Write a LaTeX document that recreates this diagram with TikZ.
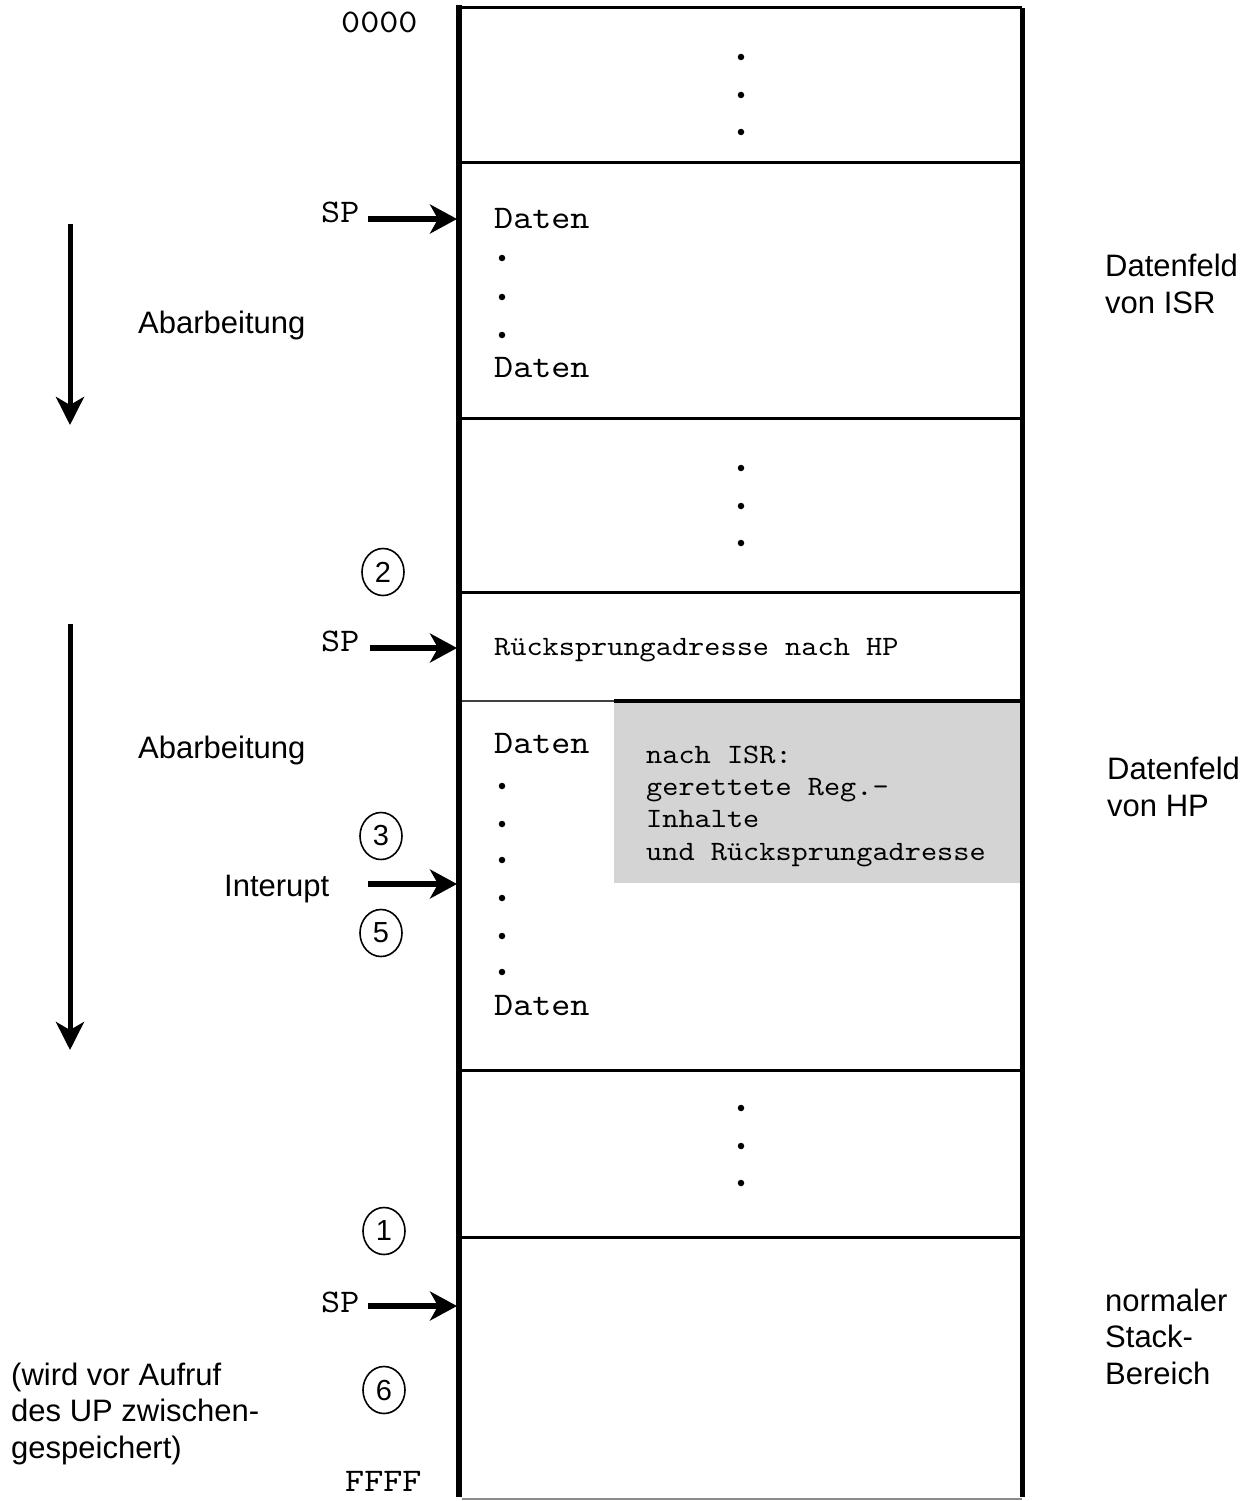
\documentclass[tikz,border=0pt]{standalone}
\usepackage{fontspec}
\setmainfont{Liberation Sans}
\newfontfamily\memfont{lmmono10-regular.otf}[FakeStretch=1.1]
\usetikzlibrary{arrows.meta,shapes.geometric}

\definecolor{savedgray}{RGB}{212,212,212}

\tikzset{
  mem/.style={font=\memfont\fontsize{33}{36}\selectfont, anchor=base west, inner sep=0pt},
  memsmall/.style={font=\memfont\fontsize{28}{32.3}\selectfont, anchor=base west, inner sep=0pt, align=left},
  note/.style={font=\fontsize{31}{36.5}\selectfont, anchor=base west, inner sep=0pt, align=left},
  stepnum/.style={draw, line width=1.6pt, ellipse, minimum width=42pt, minimum height=47pt,
                  inner sep=0pt, font=\fontsize{29}{29}\selectfont},
  ptr/.style={line width=6pt, -{Stealth[length=27pt,width=29pt,inset=8pt]}},
  flow/.style={line width=5pt, -{Stealth[length=28pt,width=28pt,inset=8pt]}},
  cellline/.style={line width=3pt},
  dotmark/.style={circle, fill, inner sep=0pt, minimum size=6.5pt}
}

\begin{document}
\begin{tikzpicture}[x=1pt,y=-1pt]
\useasboundingbox (0,0) rectangle (1255,1501);

% saved registers inside the HP data field
\fill[savedgray] (614,701) rectangle (1020,883);

% stack column: outer frame and cell borders
\draw[cellline] (459,8) -- (1022,8);
\foreach \yy in {162,418,592,1070,1237}
  \draw[cellline] (459,\yy) -- (1022,\yy);
\draw[line width=1.2pt, black!75] (459,701) -- (614,701);
\draw[line width=3.5pt] (614,701) -- (1022,701);
\draw[line width=1.2pt, black!45] (462,1499) -- (1022,1499);
\draw[line width=6pt] (459,5) -- (459,1497);
\draw[line width=5pt] (1022,8) -- (1022,1497);

% ellipsis dots in the unused cells
\foreach \yy in {57,95,132,468,506,543,1108,1146,1183}
  \node[dotmark] at (741,\yy) {};
% ellipsis dots inside the data fields
\foreach \yy in {258,297,335,786,824,860,898,936,972}
  \node[dotmark] at (502,\yy) {};

% cell contents
\node[mem] (isrA) at (494,228) {Daten};
\node[mem] (isrB) at (494,377) {Daten};
\node[memsmall] (ret) at (494,655) {Rücksprungadresse nach HP};
\node[mem] (hpA) at (494,753) {Daten};
\node[mem] (hpB) at (494,1015) {Daten};
\node[memsmall] (saved) at (646,860) {nach ISR:\\gerettete Reg.-\\Inhalte\\und Rücksprungadresse};

% addresses
\node[mem] (lo) at (341,33) {0000};
\node[mem] (hi) at (345,1491) {FFFF};

% stack pointer marks
\node[mem] (sp1) at (321,222) {SP};
\node[mem] (sp2) at (321,651) {SP};
\node[mem] (sp3) at (321,1312) {SP};
\node[note] (irq) at (224,896) {Interupt};

\coordinate (sp1tail) at (368,219);  \coordinate (sp1head) at (457,219);
\coordinate (sp2tail) at (370,648);  \coordinate (sp2head) at (457,648);
\coordinate (irqtail) at (368,884);  \coordinate (irqhead) at (457,884);
\coordinate (sp3tail) at (368,1306); \coordinate (sp3head) at (457,1306);
\draw[ptr] (sp1tail) -- (sp1head);
\draw[ptr] (sp2tail) -- (sp2head);
\draw[ptr] (irqtail) -- (irqhead);
\draw[ptr] (sp3tail) -- (sp3head);

% sequence numbers
\node[stepnum] (s2) at (383,572) {2};
\node[stepnum] (s3) at (381,836) {3};
\node[stepnum] (s5) at (381,933) {5};
\node[stepnum] (s1) at (384,1231) {1};
\node[stepnum] (s6) at (384,1390) {6};

% processing direction
\coordinate (flowAtop) at (70,224);  \coordinate (flowAend) at (70,425);
\coordinate (flowBtop) at (70,624);  \coordinate (flowBend) at (70,1050);
\draw[flow] (flowAtop) -- (flowAend);
\draw[flow] (flowBtop) -- (flowBend);
\node[note] (runA) at (138,333) {Abarbeitung};
\node[note] (runB) at (138,758) {Abarbeitung};

% field descriptions (anchored at the baseline of the last line)
\node[note] (fisr) at (1105,313) {Datenfeld\\von ISR};
\node[note] (fhp) at (1107,816) {Datenfeld\\von HP};
\node[note] (fstack) at (1105,1384) {normaler\\Stack-\\Bereich};
\node[note] (fnote) at (11,1458) {(wird vor Aufruf\\des UP zwischen-\\gespeichert)};
\end{tikzpicture}
\end{document}
